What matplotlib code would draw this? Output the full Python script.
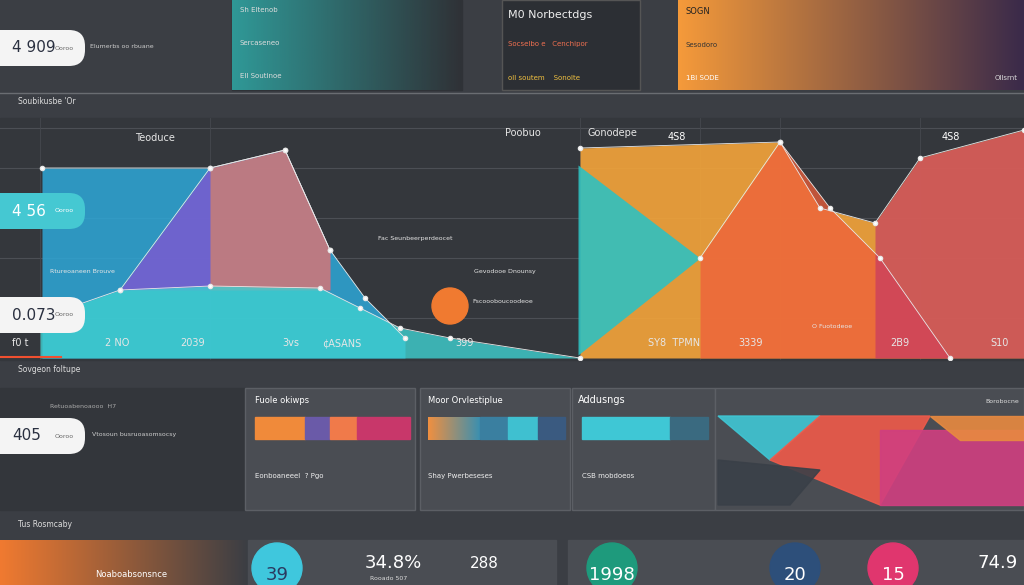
import numpy as np
import matplotlib.pyplot as plt
from matplotlib.patches import FancyBboxPatch, Rectangle, Circle, Polygon
from matplotlib.colors import LinearSegmentedColormap

# main chart series (x in px, height above baseline in px)
blue_x = [42, 210, 285, 330, 365, 405]
blue_y = [190, 190, 208, 108, 60, 20]
fan_x = [120, 210, 285, 330]
fan_y = [68, 190, 208, 108]
teal_x = [40, 120, 210, 320, 360, 400, 450, 580]
teal_y = [40, 68, 72, 70, 50, 30, 20, 0]
tri_x = [578, 700]
tri_hi = [193, 100]
tri_lo = [3, 100]
org_x = [580, 780, 820, 875, 920, 1024]
org_y = [210, 216, 150, 135, 200, 228]
red_x = [700, 780, 830, 880, 950]
red_y = [100, 216, 150, 100, 0]
mag_x = [875, 920, 1024]
mag_y = [135, 200, 228]

# pills: (label, y_top)
pill_labels = ["4 909", "4 56", "0.073", "405"]
pill_tops = [30, 193, 297, 418]
pill_cols = ["#f4f4f4", "#45c8d2", "#f4f4f4", "#f4f4f4"]
# bottom circles
circ_x = [277, 612, 795, 893]
circ_lab = ["39", "1998", "20", "15"]
circ_col = ["#3fc7dd", "#1e9a7c", "#2d4f7a", "#e0366e"]

BG = "#3b3e44"
fig = plt.figure(figsize=(10.24, 5.85), dpi=100, facecolor=BG)
bg = fig.add_axes([0, 0, 1, 1])
bg.set_xlim(0, 1024); bg.set_ylim(585, 0); bg.axis("off")


def grad(ax, x0, x1, y0, y1, c0, c1, z=1, alpha=1.0):
    g = np.linspace(0, 1, 256)[None, :]
    cm = LinearSegmentedColormap.from_list("g", [c0, c1])
    ax.imshow(g, cmap=cm, extent=(x0, x1, y1, y0), aspect="auto", zorder=z, alpha=alpha)


# top panels
bg.add_patch(Rectangle((232, 0), 230, 90, color="#2f3237", zorder=1))
grad(bg, 232, 462, 0, 90, "#2fb3b0", "#2f3237", z=1, alpha=0.8)
bg.add_patch(Rectangle((502, 0), 138, 90, color="#2c2f34", ec="#555", zorder=1))
grad(bg, 678, 1024, 0, 90, "#f59a3a", "#3a2a4a", z=1)
bg.text(240, 12, "Sh Eltenob", color="#ddd", fontsize=5)
bg.text(240, 45, "Sercaseneo", color="#ddd", fontsize=5)
bg.text(240, 78, "Ell Soutinoe", color="#ddd", fontsize=5)
bg.text(508, 18, "M0 Norbectdgs", color="#eee", fontsize=8)
bg.text(508, 46, "Socselbo e   Cenchipor", color="#f07050", fontsize=5)
bg.text(508, 80, "oll soutem    Sonolte", color="#f0c040", fontsize=5)
bg.text(686, 14, "SOGN", color="#222", fontsize=6)
bg.text(686, 47, "Sesodoro", color="#333", fontsize=5)
bg.text(686, 80, "1Bl SODE", color="#fff", fontsize=5)
bg.text(995, 80, "Ollsrnt", color="#ddd", fontsize=5)
bg.text(90, 48, "Elumerbs oo rbuane", color="#ccc", fontsize=4.5)
bg.plot([0, 1024], [93, 93], color="#6a6d72", lw=1)
bg.text(18, 104, "Soubikusbe 'Or", color="#ddd", fontsize=5.5)
bg.text(18, 372, "Sovgeon foltupe", color="#ddd", fontsize=5.5)
bg.text(18, 527, "Tus Rosmcaby", color="#ddd", fontsize=5.5)
bg.add_patch(Rectangle((0, 118), 1024, 242, color="#34373c", zorder=0))

# bottom row panels
bg.add_patch(Rectangle((0, 388), 245, 122, color="#33363b", zorder=1))
for x0, w in [(245, 170), (420, 150), (572, 143), (715, 309)]:
    bg.add_patch(Rectangle((x0, 388), w, 122, color="#4a4d53", ec="#5c5f65", zorder=1))
for (x0, w, c) in [(255, 50, "#f08a3a"), (305, 25, "#6a5aa8"), (330, 27, "#f07a4a"), (357, 53, "#c8376a")]:
    bg.add_patch(Rectangle((x0, 417), w, 22, color=c, zorder=2))
grad(bg, 428, 480, 417, 440, "#f09040", "#3b8fb0", z=2)
for (x0, w, c) in [(480, 28, "#3a7fa0"), (508, 30, "#3fc0d0"), (538, 27, "#3a5a80")]:
    bg.add_patch(Rectangle((x0, 417), w, 22, color=c, zorder=2))
bg.add_patch(Rectangle((582, 417), 88, 22, color="#3fc7d5", zorder=2))
bg.add_patch(Rectangle((670, 417), 38, 22, color="#3a6a80", zorder=2))
polys = [([(718, 416), (820, 416), (770, 460)], "#3fc7d5"),
         ([(820, 416), (930, 416), (880, 505), (770, 460)], "#ef5a4a"),
         ([(880, 430), (1024, 430), (1024, 505), (880, 505)], "#d03f80"),
         ([(718, 460), (820, 470), (790, 505), (718, 505)], "#3a4048"),
         ([(930, 416), (1024, 416), (1024, 440), (960, 440)], "#e88a40")]
for pts, c in polys:
    bg.add_patch(Polygon(pts, closed=True, color=c, alpha=0.9, zorder=2))
bg.text(255, 403, "Fuole okiwps", color="#fff", fontsize=6)
bg.text(428, 403, "Moor Orvlestiplue", color="#fff", fontsize=6)
bg.text(578, 403, "Addusngs", color="#fff", fontsize=7)
bg.text(985, 403, "Borobocne", color="#ddd", fontsize=4.5)
bg.text(255, 478, "Eonboaneeel  ? Pgo", color="#eee", fontsize=5)
bg.text(428, 478, "Shay Pwerbeseses", color="#eee", fontsize=5)
bg.text(582, 478, "CSB mobdoeos", color="#eee", fontsize=5)
bg.text(92, 436, "Vtosoun busruoasomsocsy", color="#ccc", fontsize=4.5)
bg.text(50, 408, "Retuoabenoaooo  H7", color="#aaa", fontsize=4.5)

# bottom strip
grad(bg, 0, 248, 540, 585, "#f07a30", "#3b3e44", z=1)
bg.add_patch(Rectangle((248, 540), 308, 45, color="#4a4d53", zorder=1))
bg.add_patch(Rectangle((568, 540), 456, 45, color="#4a4d53", zorder=1))
bg.text(95, 577, "Noaboabsonsnce", color="#fff", fontsize=6)
for x, lab, c in zip(circ_x, circ_lab, circ_col):
    bg.add_patch(Circle((x, 568), 25, color=c, zorder=3))
    bg.text(x, 575, lab, color="#fff" if c != "#3fc7dd" else "#2a3a60",
            fontsize=13, ha="center", va="center", zorder=4)
bg.text(365, 563, "34.8%", color="#fff", fontsize=13, ha="left", va="center")
bg.text(470, 563, "288", color="#fff", fontsize=11, va="center")
bg.text(370, 580, "Rooado 507", color="#ddd", fontsize=4.5)
bg.text(1018, 563, "74.9", color="#fff", fontsize=13, ha="right", va="center")

# main chart
ax = fig.add_axes([0, (585 - 360) / 585, 1, 242 / 585])
ax.set_xlim(0, 1024); ax.set_ylim(-2, 240); ax.axis("off")
for h in [40, 100, 140, 190, 230]:
    ax.axhline(h, color="#4c4f55", lw=0.8, zorder=0)
for xv in [40, 210, 580, 700, 780, 920]:
    ax.axvline(xv, color="#45484e", lw=0.6, zorder=0)
ax.fill_between(blue_x, 0, blue_y, color="#2ea8d8", alpha=0.85, lw=0, zorder=2)
ax.fill_between(fan_x, fan_y[0], fan_y, color="#7a5ad0", alpha=0.85, lw=0, zorder=3)
ax.fill_between(fan_x[1:], fan_y[0], fan_y[1:], color="#f08a50", alpha=0.6, lw=0, zorder=3)
ax.fill_between(teal_x, 0, teal_y, color="#3fd0d0", alpha=0.8, lw=0, zorder=4)
ax.fill_between(org_x, 0, org_y, color="#f5a53a", alpha=0.9, lw=0, zorder=2)
ax.fill_between(red_x, 0, red_y, color="#ef5f3a", alpha=0.75, lw=0, zorder=3)
ax.fill_between(mag_x, 0, mag_y, color="#c0306a", alpha=0.6, lw=0, zorder=3)
ax.fill_between(tri_x, tri_lo, tri_hi, color="#2fc0c0", alpha=0.9, lw=0, zorder=4)
for xs, ys in [(blue_x, blue_y), (fan_x, fan_y), (teal_x, teal_y), (org_x, org_y), (red_x, red_y)]:
    ax.plot(xs, ys, color="#e8e8e8", lw=0.6, marker="o", ms=3, mfc="#fff", zorder=6)
ax.add_patch(Circle((450, 52), 18, color="#f07a30", zorder=5))
ax.axhline(1, xmin=0, xmax=0.06, color="#f05030", lw=1.5, zorder=5)
labels = [(12, 12, "f0 t"), (105, 12, "2 NO"), (180, 12, "2039"), (282, 12, "3vs"),
          (322, 12, "¢ASANS"), (455, 12, "399"), (648, 12, "SY8  TPMN"), (738, 12, "3339"),
          (890, 12, "2B9"), (990, 12, "S10"), (378, 118, "Fac Seunbeerperdeocet"),
          (474, 85, "Gevodooe Dnounsy"), (50, 85, "Rtureoaneen Brouve"),
          (505, 222, "Poobuo"), (588, 222, "Gonodepe"), (135, 217, "Teoduce"),
          (472, 55, "Fscoooboucoodeoe"), (812, 30, "O Fuotodeoe")]
for x, y, t in labels:
    ax.text(x, y, t, color="#e6e6e6", fontsize=7 if len(t) < 10 else 4.5, zorder=7)
ax.text(668, 218, "4S8", color="#fff", fontsize=7, zorder=7)
ax.text(942, 218, "4S8", color="#fff", fontsize=7, zorder=7)

# pills on an overlay axes above everything
top = fig.add_axes([0, 0, 1, 1])
top.set_xlim(0, 1024); top.set_ylim(585, 0); top.axis("off")
top.patch.set_alpha(0)
for lab, y0, c in zip(pill_labels, pill_tops, pill_cols):
    top.add_patch(FancyBboxPatch((-20, y0), 105, 36, boxstyle="round,pad=0,rounding_size=16",
                                 fc=c, ec="none"))
    top.text(12, y0 + 18, lab, color="#2a3040" if c == "#f4f4f4" else "#fff",
             fontsize=11, va="center")
    top.text(55, y0 + 18, "Ooroo", color="#666" if c == "#f4f4f4" else "#fff",
             fontsize=4.5, va="center")

fig.savefig("out.png", dpi=100, facecolor=BG)
